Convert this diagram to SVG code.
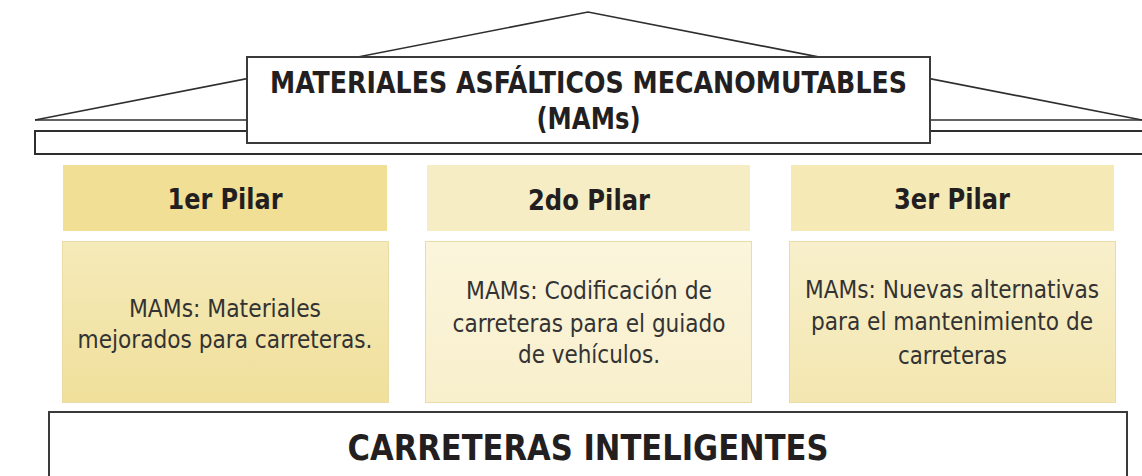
<svg xmlns="http://www.w3.org/2000/svg" width="1142" height="476" viewBox="0 0 1142 476">
<defs>
<linearGradient id="g1" x1="0" y1="0" x2="0" y2="1"><stop offset="0" stop-color="#f5eab9"/><stop offset="1" stop-color="#f0e09b"/></linearGradient>
<linearGradient id="g2" x1="0" y1="0" x2="0" y2="1"><stop offset="0" stop-color="#fbf5dc"/><stop offset="1" stop-color="#f8efcc"/></linearGradient>
<linearGradient id="g3" x1="0" y1="0" x2="0" y2="1"><stop offset="0" stop-color="#f8f0cc"/><stop offset="1" stop-color="#f3e6b0"/></linearGradient>
</defs>
<style>
.ln{fill:none;stroke:#2e2e2e;stroke-width:1.6}
.bx{fill:#ffffff;stroke:#3a3a3a;stroke-width:2}
.hd{font-family:"DejaVu Sans Condensed","DejaVu Sans",sans-serif;font-weight:bold;font-size:28px;fill:#231f20;text-anchor:middle}
.tt{font-family:"DejaVu Sans Condensed","DejaVu Sans",sans-serif;font-weight:bold;font-size:30px;fill:#231f20;text-anchor:middle}
.bd{font-family:"DejaVu Sans Condensed","DejaVu Sans",sans-serif;font-size:24px;fill:#333333;text-anchor:middle}
.cb{stroke:#eadca6;stroke-width:1}
</style>
<g id="roof">
<polyline class="ln" points="35,120 588,12 1142,120"/>
<line class="ln" x1="35" y1="120" x2="1142" y2="120"/>
<rect x="35" y="131" width="1120" height="23" fill="#ffffff" stroke="#2e2e2e" stroke-width="2"/>
</g>
<g id="title">
<rect class="bx" x="247" y="57" width="683" height="86"/>
<text class="tt" x="588.5" y="93" textLength="637" lengthAdjust="spacingAndGlyphs">MATERIALES ASFÁLTICOS MECANOMUTABLES</text>
<text class="tt" x="588.5" y="129" textLength="104" lengthAdjust="spacingAndGlyphs">(MAMs)</text>
</g>
<g id="pilar1">
<rect x="63" y="165" width="324" height="66" fill="#f0df95"/>
<text class="hd" x="225" y="209" textLength="115" lengthAdjust="spacingAndGlyphs">1er Pilar</text>
<rect class="cb" x="62.5" y="241.5" width="326" height="161" fill="url(#g1)"/>
<text class="bd" x="225" y="317" textLength="192" lengthAdjust="spacingAndGlyphs">MAMs: Materiales</text>
<text class="bd" x="225" y="348" textLength="295" lengthAdjust="spacingAndGlyphs">mejorados para carreteras.</text>
</g>
<g id="pilar2">
<rect x="427" y="165" width="323" height="66" fill="#f6edc5"/>
<text class="hd" x="589" y="210" textLength="122" lengthAdjust="spacingAndGlyphs">2do Pilar</text>
<rect class="cb" x="425.5" y="241.5" width="326" height="161" fill="url(#g2)"/>
<text class="bd" x="589" y="299" textLength="246" lengthAdjust="spacingAndGlyphs">MAMs: Codificación de</text>
<text class="bd" x="589" y="332" textLength="273" lengthAdjust="spacingAndGlyphs">carreteras para el guiado</text>
<text class="bd" x="589" y="363" textLength="142" lengthAdjust="spacingAndGlyphs">de vehículos.</text>
</g>
<g id="pilar3">
<rect x="791" y="165" width="323" height="66" fill="#f5e9b6"/>
<text class="hd" x="952" y="209" textLength="116" lengthAdjust="spacingAndGlyphs">3er Pilar</text>
<rect class="cb" x="789.5" y="241.5" width="326" height="161" fill="url(#g3)"/>
<text class="bd" x="952" y="298" textLength="294" lengthAdjust="spacingAndGlyphs">MAMs: Nuevas alternativas</text>
<text class="bd" x="952" y="330" textLength="282" lengthAdjust="spacingAndGlyphs">para el mantenimiento de</text>
<text class="bd" x="952.5" y="364" textLength="109" lengthAdjust="spacingAndGlyphs">carreteras</text>
</g>
<g id="base">
<rect class="bx" x="49" y="412" width="1078" height="80"/>
<text class="tt" x="588" y="460" style="font-size:35px" textLength="481" lengthAdjust="spacingAndGlyphs">CARRETERAS INTELIGENTES</text>
</g>
<g id="connectors"></g>
</svg>
